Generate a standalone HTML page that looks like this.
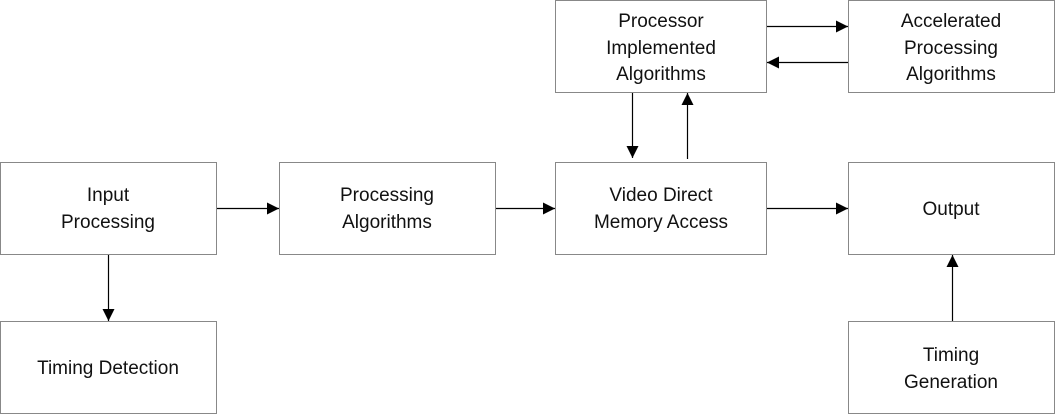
<!DOCTYPE html>
<html><head><style>body{margin:0;background:#fff}svg{display:block}text{font-family:"Liberation Sans",Arial,sans-serif;font-size:19px;fill:#111;text-anchor:middle}</style></head>
<body>
<svg width="1055" height="414" viewBox="0 0 1055 414">
<defs><marker id="a" markerWidth="12" markerHeight="12" refX="12" refY="6" orient="auto" markerUnits="userSpaceOnUse"><path d="M0,0 L12,6 L0,12 z" fill="#000"/></marker></defs>
<g fill="#fff" stroke="#888" stroke-width="1">
<rect x="0.5" y="162.5" width="216" height="92"/>
<rect x="279.5" y="162.5" width="216" height="92"/>
<rect x="555.5" y="162.5" width="211" height="92"/>
<rect x="848.5" y="162.5" width="206" height="92"/>
<rect x="555.5" y="0.5" width="211" height="92"/>
<rect x="848.5" y="0.5" width="206" height="92"/>
<rect x="0.5" y="321.5" width="216" height="92"/>
<rect x="848.5" y="321.5" width="206" height="92"/>
</g>
<g stroke="#000" stroke-width="1.2" marker-end="url(#a)">
<line x1="217" y1="208.5" x2="279" y2="208.5"/>
<line x1="496" y1="208.5" x2="555" y2="208.5"/>
<line x1="767" y1="208.5" x2="848" y2="208.5"/>
<line x1="108.5" y1="255" x2="108.5" y2="321"/>
<line x1="952.5" y1="321" x2="952.5" y2="255"/>
<line x1="632.5" y1="93" x2="632.5" y2="158"/>
<line x1="687.5" y1="159" x2="687.5" y2="93"/>
<line x1="767" y1="26.5" x2="848" y2="26.5"/>
<line x1="848" y1="62.5" x2="767" y2="62.5"/>
</g>
<text x="108" y="201">Input</text><text x="108" y="228">Processing</text>
<text x="387" y="201">Processing</text><text x="387" y="228">Algorithms</text>
<text x="661" y="201">Video Direct</text><text x="661" y="228">Memory Access</text>
<text x="951" y="215">Output</text>
<text x="661" y="27">Processor</text><text x="661" y="54">Implemented</text><text x="661" y="80">Algorithms</text>
<text x="951" y="27">Accelerated</text><text x="951" y="54">Processing</text><text x="951" y="80">Algorithms</text>
<text x="108" y="374">Timing Detection</text>
<text x="951" y="361">Timing</text><text x="951" y="388">Generation</text>
</svg>
</body></html>
